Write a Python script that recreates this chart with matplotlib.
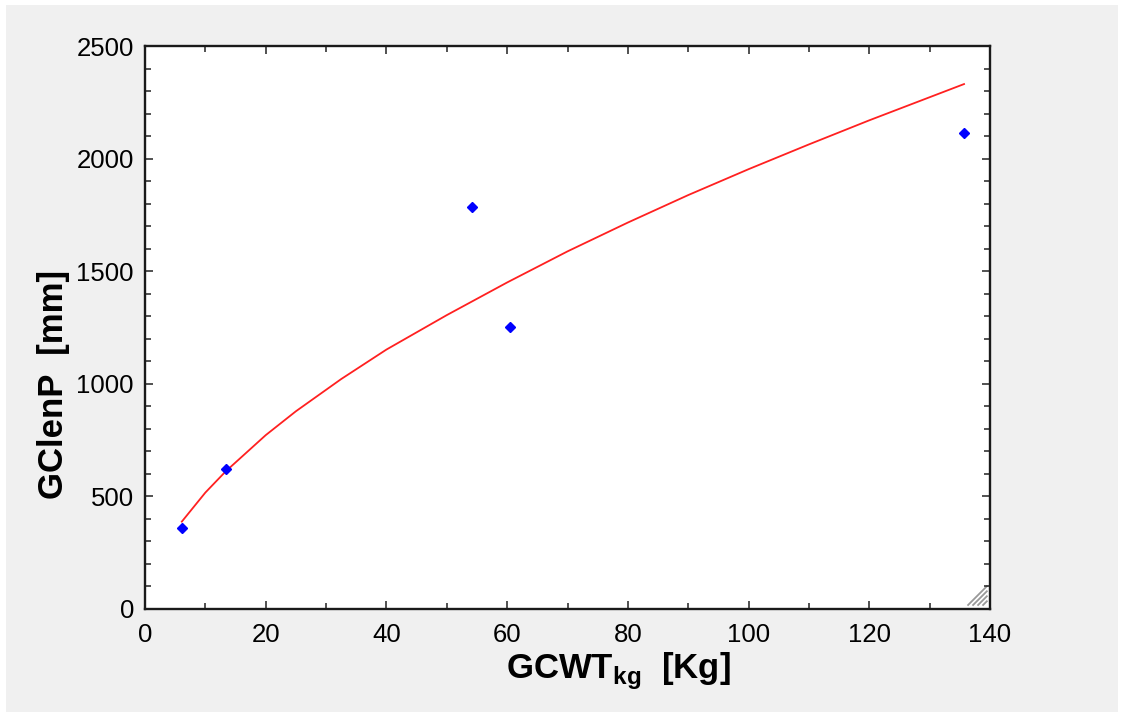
import matplotlib
matplotlib.use("Agg")
import matplotlib.pyplot as plt
from matplotlib.patches import Rectangle
from matplotlib.ticker import MultipleLocator

plt.rcParams['font.family'] = ['Liberation Sans', 'DejaVu Sans']
plt.rcParams['mathtext.fontset'] = 'custom'
plt.rcParams['mathtext.rm'] = 'Liberation Sans'
plt.rcParams['mathtext.bf'] = 'Liberation Sans:bold'

# measured points
gcwt = [6.1, 13.4, 54.2, 60.5, 135.7]
gclenp = [361, 620, 1786, 1254, 2115]

# fitted curve
fit_x = [6.1, 10, 13.4, 20, 25, 32.5, 40, 50, 60, 70, 80, 90, 100, 110, 120, 135.7]
fit_y = [388, 517, 612, 772, 878, 1021, 1152, 1305, 1450, 1588, 1716, 1838, 1953, 2063, 2170, 2331]

fig = plt.figure(figsize=(11.23, 7.16), dpi=100, facecolor='white')
# grey panel behind the plot
bg = Rectangle((6/1123, 4/716), 1112/1123, 707/716,
               transform=fig.transFigure, facecolor='#f0f0f0',
               edgecolor='none', zorder=-10)
fig.add_artist(bg)

ax = fig.add_axes([145/1123, 107/716, 845/1123, 563/716])
ax.set_zorder(1)
ax.set_facecolor('white')

ax.plot(fit_x, fit_y, color='#ff2020', lw=1.3, zorder=2)
ax.plot(gcwt, gclenp, ls='none', marker='D', ms=5.5, color='#0000ff',
        mec='#0000ff', zorder=3)

ax.set_xlim(0, 140)
ax.set_ylim(0, 2500)
ax.xaxis.set_major_locator(MultipleLocator(20))
ax.xaxis.set_minor_locator(MultipleLocator(10))
ax.yaxis.set_major_locator(MultipleLocator(500))
ax.yaxis.set_minor_locator(MultipleLocator(100))

ax.tick_params(which='both', direction='in', top=True, right=True, width=1.1,
               color='#222222')
ax.tick_params(which='major', length=6)
ax.tick_params(which='minor', length=4)
ax.tick_params(axis='x', which='major', labelsize=18.5, pad=10)
ax.tick_params(axis='y', which='major', labelsize=18.5, pad=8)

for s in ax.spines.values():
    s.set_linewidth(1.7)
    s.set_color('#1a1a1a')

ax.set_xlabel(r'GCWT$_{\mathbf{kg}}$  [Kg]', fontsize=25, fontweight='bold')
ax.set_ylabel('GClenP  [mm]', fontsize=25, fontweight='bold')
ax.xaxis.set_label_coords(0.560, -0.074)
ax.yaxis.set_label_coords(-0.089, 0.398)

# resize grip in the corner
cx, cy = 0.997, 0.006
for s in (5, 10, 15, 20):
    ax.plot([cx - s / 845, cx], [cy, cy + s / 563],
            transform=ax.transAxes, color='#999999', lw=1.3,
            solid_capstyle='butt', clip_on=False, zorder=1)

fig.savefig('out.png', dpi=100, facecolor=fig.get_facecolor())
